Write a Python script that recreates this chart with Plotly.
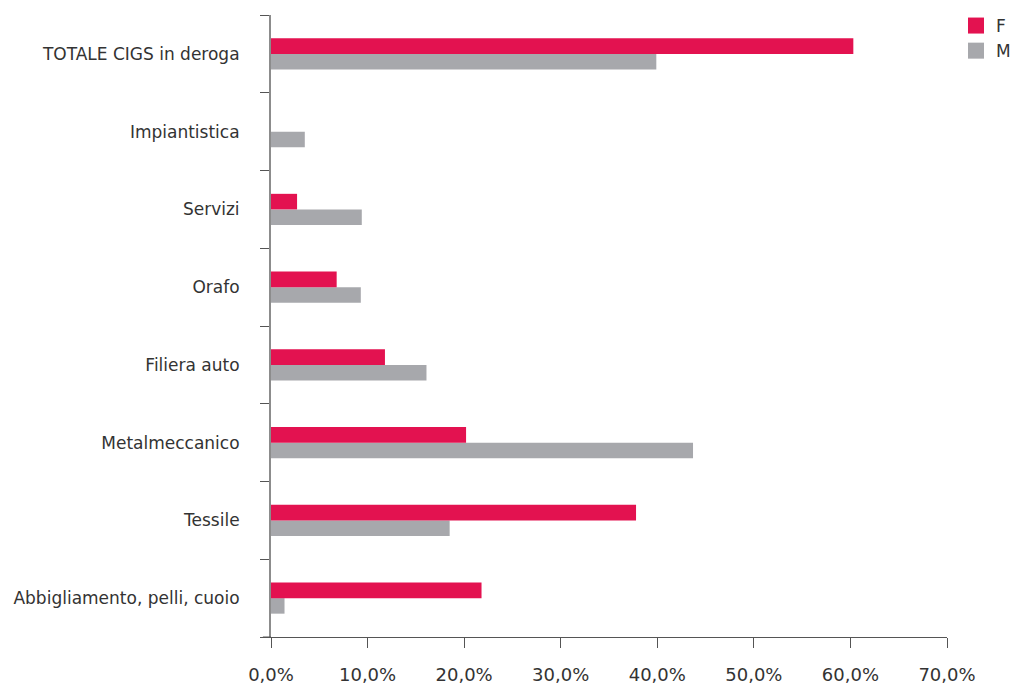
import plotly.graph_objects as go

categories = ["Abbigliamento, pelli, cuoio", "Tessile", "Metalmeccanico", "Filiera auto",
              "Orafo", "Servizi", "Impiantistica", "TOTALE CIGS in deroga"]
values_F = [21.8, 37.8, 20.2, 11.8, 6.8, 2.7, 0.0, 60.3]
values_M = [1.4, 18.5, 43.7, 16.1, 9.3, 9.4, 3.5, 39.9]
tick_vals = [0, 10, 20, 30, 40, 50, 60, 70]
tick_text = ["0,0%", "10,0%", "20,0%", "30,0%", "40,0%", "50,0%", "60,0%", "70,0%"]

COL_F = "#E31250"
COL_M = "#A7A8AC"
FONT = "DejaVu Sans"

fig = go.Figure()
fig.add_trace(go.Bar(y=categories, x=values_M, name="M", orientation="h", showlegend=False,
                     marker=dict(color=COL_M, line=dict(width=0))))
fig.add_trace(go.Bar(y=categories, x=values_F, name="F", orientation="h", showlegend=False,
                     marker=dict(color=COL_F, line=dict(width=0))))
# legend entries with larger square swatches
for nm, col in [("F", COL_F), ("M", COL_M)]:
    fig.add_trace(go.Scatter(x=[None], y=[None], mode="markers", name=nm,
                             marker=dict(symbol="square", size=16, color=col)))

W, H = 1013, 685
fig.update_layout(
    width=W, height=H,
    margin=dict(l=270.5, r=65.7, t=15, b=48, pad=0, autoexpand=False),
    paper_bgcolor="white", plot_bgcolor="white",
    barmode="group", bargap=0.6, bargroupgap=0,
    font=dict(family=FONT, size=17, color="#333333"),
    legend=dict(xref="container", yref="container", x=956 / W, y=1 - 8 / H,
                xanchor="left", yanchor="top",
                font=dict(size=17, color="#333333"), itemwidth=30, tracegroupgap=0,
                bgcolor="rgba(0,0,0,0)"),
    showlegend=True,
    shapes=[dict(type="line", xref="paper", yref="paper", x0=-0.012, x1=0, y0=0, y1=0,
                 line=dict(color="#555555", width=1))],
)
fig.update_xaxes(range=[0, 70], tickvals=tick_vals, ticktext=tick_text,
                 showgrid=False, zeroline=False, showline=True, linecolor="#555555",
                 linewidth=1, ticks="outside", ticklen=10, tickcolor="#555555",
                 ticklabelstandoff=11, tickfont=dict(size=18, color="#333333"),
                 automargin=False)
fig.update_yaxes(type="category", categoryorder="array", categoryarray=categories,
                 showgrid=False, zeroline=False, showline=True, linecolor="#8C8C8C",
                 linewidth=2, ticks="outside", ticklen=9, tickcolor="#555555",
                 tickson="boundaries", ticklabelstandoff=26,
                 tickfont=dict(size=17, color="#333333"), automargin=False)

fig.write_html("out.html", config={"displayModeBar": False},
               post_script="document.body.style.margin='0';document.body.style.overflow='hidden';")
